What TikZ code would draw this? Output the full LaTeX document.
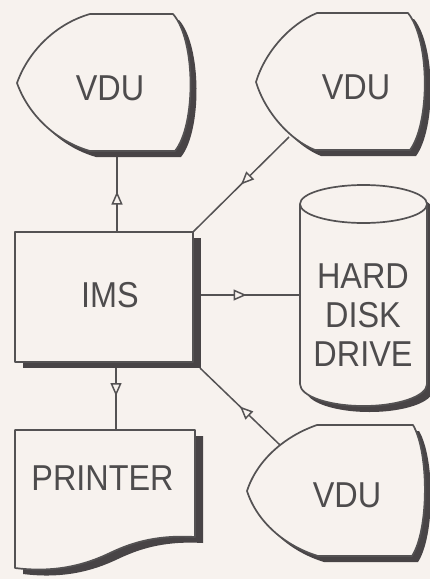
\documentclass[tikz,border=0pt]{standalone}
\usepackage{fontspec}
\newfontfamily\labfont[FakeStretch=0.9]{Liberation Sans}
\usetikzlibrary{arrows.meta,decorations.markings}
\definecolor{bg}{RGB}{247,242,238}
\definecolor{ln}{RGB}{84,82,83}
\definecolor{sh}{RGB}{72,68,70}
\definecolor{tx}{RGB}{78,76,77}
\begin{document}
\begin{tikzpicture}[x=1pt,y=-1pt,
  outline/.style={draw=ln, line width=1.7pt, fill=bg, line join=round},
  shadowfill/.style={fill=sh, shift={(6,6)}},
  boxshadow/.style={fill=sh, shift={(8,6)}},
  lab/.style={font=\labfont\fontsize{36}{39}\selectfont, text=tx, inner sep=0pt, align=center},
  conn/.style={draw=ln, line width=1.5pt, postaction={decorate},
    decoration={markings, mark=at position 0.5 with {\arrow[line width=1.5pt]{Triangle[length=13pt, width=11pt, fill=bg]}}}}
]
\fill[bg] (0,0) rectangle (430,579);
\useasboundingbox (0,0) rectangle (430,579);

% connection points
\coordinate (imsN) at (117,232);
\coordinate (vduAS) at (117,151);
\coordinate (imsNE) at (193,232);
\coordinate (vduBSW) at (289,137);
\coordinate (imsE) at (193,295);
\coordinate (diskW) at (300,295);
\coordinate (imsSE) at (200,368);
\coordinate (vduCNW) at (280,445);
\coordinate (imsS) at (116,362);
\coordinate (prtN) at (116,430);

% connectors
\draw[conn] (imsN) -- (vduAS);
\draw[conn] (vduBSW) -- (imsNE);
\draw[conn] (imsE) -- (diskW);
\draw[conn] (vduCNW) -- (imsSE);
\draw[conn] (imsS) -- (prtN);

% VDU top-left
\def\vduA{(90,14) -- (173,14) .. controls (196,40) and (196,125) .. (175,151) -- (90,151) .. controls (55,141) and (28,114) .. (17,83) .. controls (28,52) and (55,24) .. cycle}
\fill[shadowfill] \vduA;
\path[outline] \vduA;
\node[lab] (vduA) at (110,88) {VDU};

% VDU top-right
\def\vduB{(317,13) -- (408,13) .. controls (430,40) and (430,123) .. (410,150) -- (315,150) .. controls (290,140) and (265,112) .. (256,82) .. controls (265,52) and (290,24) .. cycle}
\fill[shadowfill] \vduB;
\path[outline] \vduB;
\node[lab] (vduB) at (356,87) {VDU};

% VDU bottom-right
\def\vduC{(317,425) -- (413,425) .. controls (429,452) and (429,530) .. (412,556) -- (318,556) .. controls (285,546) and (257,522) .. (247,491) .. controls (257,460) and (285,436) .. cycle}
\fill[shadowfill] \vduC;
\path[outline] \vduC;
\node[lab] (vduC) at (347,495) {VDU};

% IMS box
\fill[boxshadow] (15,232) rectangle (193,362);
\path[outline] (15,232) rectangle (193,362);
\node[lab] (ims) at (110,295) {IMS};

% hard disk cylinder
\def\disk{(300,204) -- (300,384) arc[start angle=180, end angle=0, x radius=63.5, y radius=22] -- (427,204) arc[start angle=0, end angle=-180, x radius=63.5, y radius=19] -- cycle}
\fill[shadowfill] \disk;
\path[outline] \disk;
\draw[draw=ln, line width=1.7pt] (300,204) arc[start angle=180, end angle=0, x radius=63.5, y radius=19];
\node[lab] (disk) at (363,315.5) {HARD\\DISK\\DRIVE};

% printer document
\def\prt{(15,430) -- (195,430) -- (195,537) .. controls (160,535) and (135,541) .. (110,553) .. controls (85,565) and (55,573) .. (15,568) -- cycle}
\fill[boxshadow] \prt;
\path[outline] \prt;
\node[lab] (prt) at (102.5,478.5) {PRINTER};
\end{tikzpicture}
\end{document}
